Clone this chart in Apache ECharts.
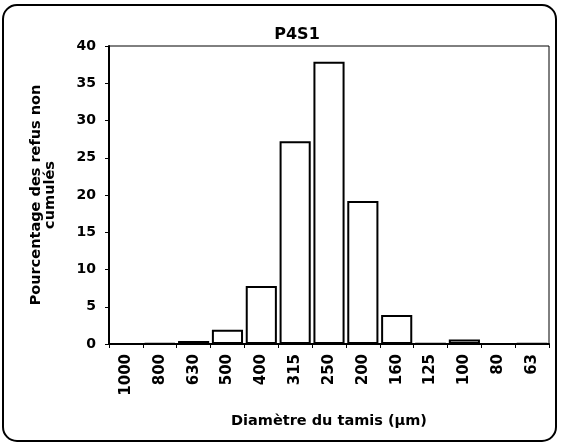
<!DOCTYPE html>
<html>
<head>
<meta charset="utf-8">
<script src="https://cdn.jsdelivr.net/npm/echarts@6/dist/echarts.min.js"></script>
<style>
  html, body { margin: 0; padding: 0; background: #fff; }
  #chart { width: 562px; height: 445px; }
</style>
</head>
<body>
<div id="chart"></div>
<script>
// Sieve sizes (µm) and retained percentage per sieve
const sieveSizes = ['1000', '800', '630', '500', '400', '315', '250', '200', '160', '125', '100', '80', '63'];
const retainedPct = [0, 0.1, 0.4, 1.9, 7.8, 27.2, 37.9, 19.2, 3.9, 0.05, 0.6, 0, 0.05];
const yTicks = { min: 0, max: 40, interval: 5 };

const font = 'DejaVu Sans, Arial, sans-serif';
const chart = echarts.init(document.getElementById('chart'), null, { renderer: 'canvas' });

chart.setOption({
  backgroundColor: '#fff',
  animation: false,
  title: {
    text: 'P4S1',
    left: 297,
    textAlign: 'center',
    top: 27,
    padding: 0,
    textStyle: { fontFamily: font, fontWeight: 'bold', fontSize: 16, color: '#000' }
  },
  graphic: [{
    type: 'rect',
    shape: { x: 3, y: 5, width: 553, height: 436, r: 14 },
    style: { fill: 'none', stroke: '#000', lineWidth: 2 },
    silent: true,
    z: 100
  }],
  grid: {
    left: 109, right: 13, top: 46, bottom: 101,
    show: true, borderColor: '#000', borderWidth: 1, backgroundColor: '#fff'
  },
  xAxis: {
    type: 'category',
    data: sieveSizes,
    name: 'Diamètre du tamis (µm)',
    nameLocation: 'middle',
    nameGap: 70,
    nameTextStyle: { fontFamily: font, fontWeight: 'bold', fontSize: 14.5, color: '#000' },
    axisLine: { lineStyle: { color: '#000', width: 2 } },
    axisTick: { show: true, length: 4, lineStyle: { color: '#000', width: 1 } },
    axisLabel: {
      rotate: 90, margin: 10,
      fontFamily: font, fontWeight: 'bold', fontSize: 15, color: '#000'
    },
    splitLine: { show: false }
  },
  yAxis: {
    type: 'value',
    min: yTicks.min, max: yTicks.max, interval: yTicks.interval,
    name: 'Pourcentage des refus non\ncumulés',
    nameLocation: 'middle',
    nameRotate: 90,
    nameGap: 52,
    nameTextStyle: { fontFamily: font, fontWeight: 'bold', fontSize: 14.5, color: '#000', lineHeight: 14, align: 'center' },
    axisLine: { show: true, lineStyle: { color: '#000', width: 2 } },
    axisTick: { show: true, length: 4, lineStyle: { color: '#000', width: 1 } },
    axisLabel: { margin: 13, fontFamily: font, fontWeight: 'bold', fontSize: 14, color: '#000' },
    splitLine: { show: false }
  },
  series: [{
    type: 'bar',
    data: retainedPct,
    barCategoryGap: '8%',
    itemStyle: { color: '#fff', borderColor: '#000', borderWidth: 2 }
  }]
});
</script>
</body>
</html>
